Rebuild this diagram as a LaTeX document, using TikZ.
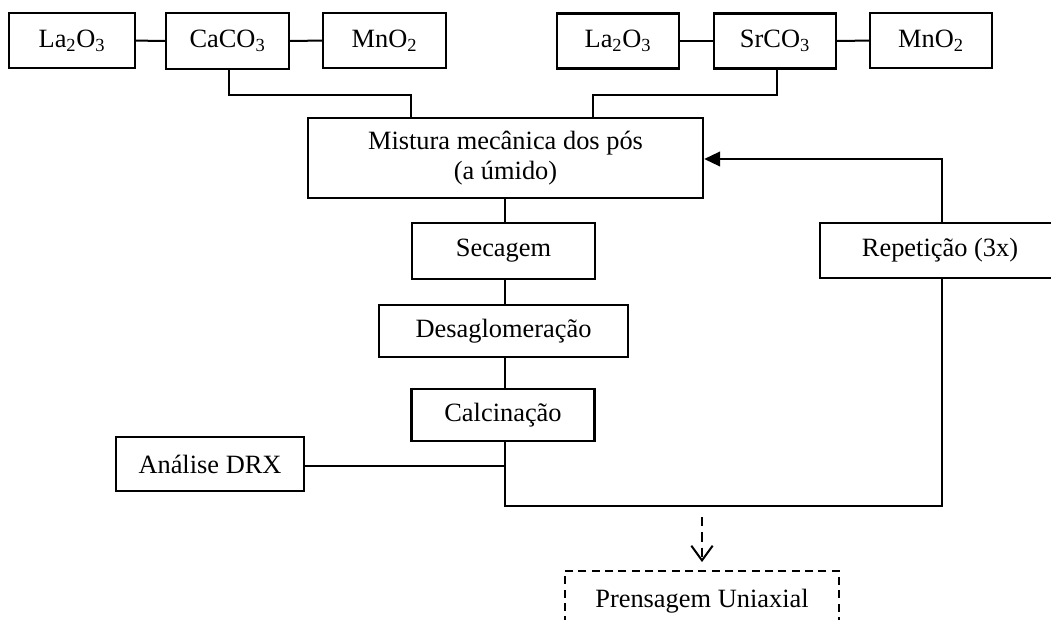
\documentclass[tikz,border=0pt]{standalone}
\usepackage{fontspec}
\setmainfont{Liberation Serif}
\usetikzlibrary{arrows.meta}
\def\u{0.75pt}
\tikzset{
  box/.style={draw, line width=1.8pt, inner sep=0pt, align=center,
    font=\fontsize{19.8}{22.5}\selectfont},
  dbox/.style={box, dash pattern=on 6pt off 4pt, line width=1.4pt},
  conn/.style={line width=1.5pt},
  dconn/.style={line width=1.5pt, dash pattern=on 7pt off 4.5pt}
}
\begin{document}
\begin{tikzpicture}[x=0.75pt, y=-0.75pt]
\useasboundingbox (0,0) rectangle (1051,619);
\clip (0,0) rectangle (1051,619);
% top left row
\node[box, minimum width=126*\u, minimum height=55*\u] (la1) at (72,40.5) {La\textsubscript{2}O\textsubscript{3}};
\node[box, minimum width=123*\u, minimum height=56*\u] (ca) at (227.5,41) {CaCO\textsubscript{3}};
\node[box, minimum width=123*\u, minimum height=55*\u] (mn1) at (384.5,40.5) {MnO\textsubscript{2}};
% top right row
\node[box, minimum width=122*\u, minimum height=55*\u] (la2) at (618,41) {La\textsubscript{2}O\textsubscript{3}};
\node[box, minimum width=122*\u, minimum height=55*\u] (sr) at (775,41) {SrCO\textsubscript{3}};
\node[box, minimum width=122*\u, minimum height=55*\u] (mn2) at (931,40.5) {MnO\textsubscript{2}};
% main column
\node[box, minimum width=395*\u, minimum height=80*\u] (mix) at (505.5,158) {Mistura mecânica dos pós\\(a úmido)};
\node[box, minimum width=183*\u, minimum height=56*\u] (sec) at (503.5,251) {Secagem};
\node[box, minimum width=249*\u, minimum height=52*\u] (des) at (503.5,331) {Desaglomeração};
\node[box, minimum width=183*\u, minimum height=52*\u] (cal) at (503,415) {Calcinação};
\node[box, minimum width=188*\u, minimum height=54*\u] (drx) at (210,464) {Análise DRX};
\node[box, minimum width=240*\u, minimum height=55*\u] (rep) at (940,250.5) {Repetição (3x)};
\node[dbox, minimum width=274*\u, minimum height=60*\u] (pre) at (702,601) {Prensagem Uniaxial};
% junction coordinates
\coordinate (jl) at (410.5,95);
\coordinate (jr) at (593,95);
\coordinate (jb) at (505,506);
\coordinate (jrep) at (942,506);
\coordinate (jtop) at (942,159);
\coordinate (jd) at (702,517);
% connectors top rows
\draw[conn] (la1) -- (ca);
\draw[conn] (ca) -- (mn1);
\draw[conn] (la2) -- (sr);
\draw[conn] (sr) -- (mn2);
\draw[conn] (ca.south -| 229,0) |- (jl) -- (jl |- mix.north);
\draw[conn] (sr.south -| 777,0) |- (jr) -- (jr |- mix.north);
% main flow
\draw[conn] (mix.south -| jb) -- (sec.north -| jb);
\draw[conn] (sec.south -| jb) -- (des.north -| jb);
\draw[conn] (des.south -| jb) -- (cal.north -| jb);
\draw[conn] (cal.south -| jb) -- (jb) -- (jrep) -- (rep.south -| jrep);
\draw[conn] (drx.east |- 0,466) -- (jb |- 0,466);
\draw[conn, -{Triangle[length=12pt, width=11pt]}] (rep.north -| jtop) -- (jtop) -- (mix.east |- jtop);
\draw[dconn, -{Straight Barb[length=11pt, width=16pt, line width=1.5pt]}] (jd) -- ([yshift=6pt]pre.north);
\end{tikzpicture}
\end{document}
